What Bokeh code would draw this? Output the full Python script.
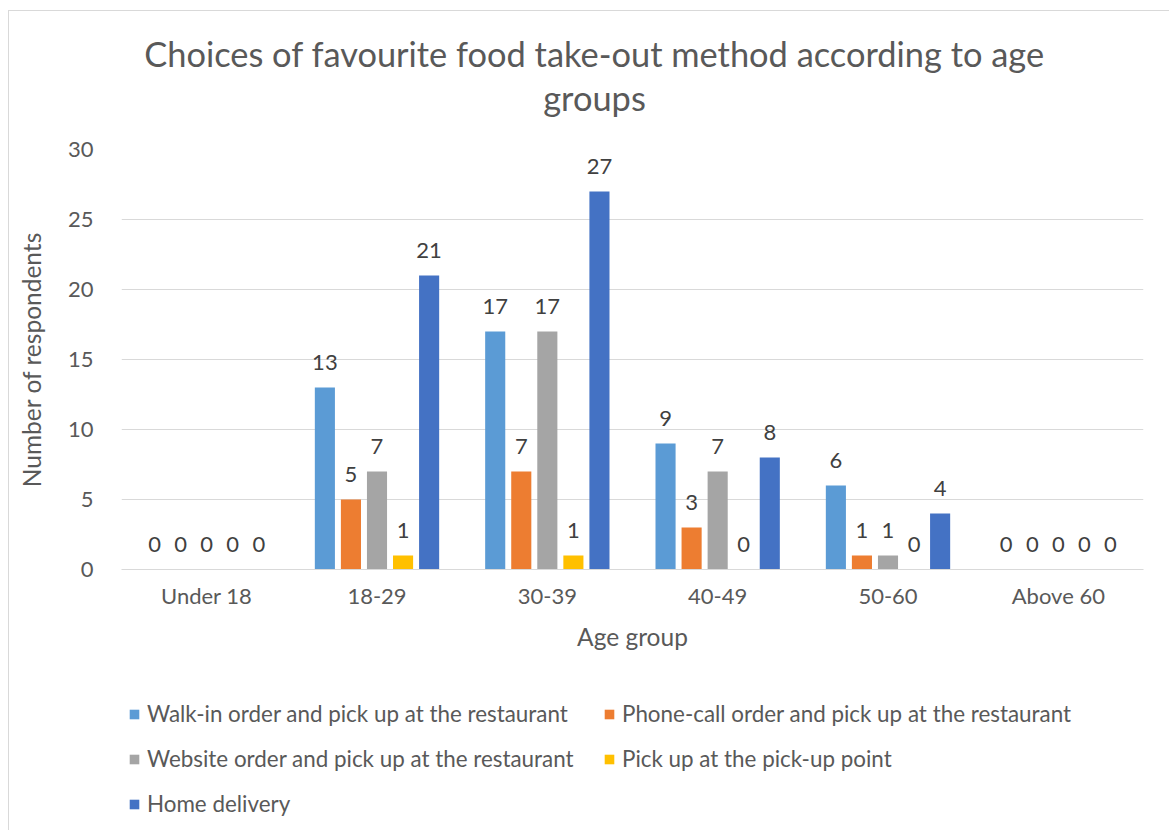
from bokeh.plotting import figure
from bokeh.layouts import column
from bokeh.models import (Legend, LegendItem, FactorRange, Range1d, Label,
                          FixedTicker, ColumnDataSource)
from bokeh.transform import dodge
from bokeh.core.properties import value
from bokeh.embed import file_html
from bokeh.resources import INLINE

# ---- data ----
categories = ["Under 18", "18-29", "30-39", "40-49", "50-60", "Above 60"]
walk_in = [0, 13, 17, 9, 6, 0]
phone_call = [0, 5, 7, 3, 1, 0]
website = [0, 7, 17, 7, 1, 0]
pickup_point = [0, 1, 1, 0, 0, 0]
home_delivery = [0, 21, 27, 8, 4, 0]
series_names = [
    "Walk-in order and pick up at the restaurant",
    "Phone-call order and pick up at the restaurant",
    "Website order and pick up at the restaurant",
    "Pick up at the pick-up point",
    "Home delivery",
]
y_ticks = [0, 5, 10, 15, 20, 25, 30]
title_lines = ["Choices of favourite food take-out method according to age", "groups"]
x_title = "Age group"
y_title = "Number of respondents"

colors = ["#5B9BD5", "#ED7D31", "#A5A5A5", "#FFC000", "#4472C4"]
FONT = "Lato"
TXT = "#595959"
BORDER = "1px solid #d9d9d9"
W = 1161
BL, BR = 112, 27          # left / right borders around the plot area
FW = W - BL - BR          # plot-area width in px

series = [walk_in, phone_call, website, pickup_point, home_delivery]
keys = ["s0", "s1", "s2", "s3", "s4"]
data = {"cat": categories}
for k, s in zip(keys, series):
    data[k] = s
    data[k + "_lbl"] = [str(v) for v in s]
source = ColumnDataSource(data)

# ---------- title panel ----------
pt = figure(width=W, height=120, x_range=Range1d(0, FW), y_range=Range1d(0, 120),
            x_axis_location=None, y_axis_location=None,
            min_border_left=BL, min_border_right=BR, min_border_top=0,
            min_border_bottom=0, output_backend="svg", toolbar_location=None)
pt.title.visible = False
pt.outline_line_color = None
pt.grid.grid_line_color = None
pt.margin = (10, 0, 0, 8)
pt.styles = {"border-left": BORDER, "border-top": BORDER}
for txt, yy in zip(title_lines, [78, 34]):
    pt.add_layout(Label(x=473, y=yy, text=txt, text_align="center",
                        text_baseline="middle", text_font=FONT,
                        text_font_size="34.4px", text_color=TXT))

# ---------- main chart ----------
p = figure(x_range=FactorRange(*categories), y_range=Range1d(0, 30),
           width=W, height=560, output_backend="svg", toolbar_location=None,
           min_border_left=BL, min_border_right=BR, min_border_top=19,
           min_border_bottom=121)
p.title.visible = False
p.outline_line_color = None
p.margin = (0, 0, 0, 8)
p.styles = {"border-left": BORDER}

step = 0.153
bw = 0.118
offsets = [-2 * step, -step, 0, step, 2 * step]
for k, off, c in zip(keys, offsets, colors):
    p.vbar(x=dodge("cat", off, range=p.x_range), top=k, width=bw,
           source=source, fill_color=c, line_color=None)
    p.text(x=dodge("cat", off, range=p.x_range), y=k, text=k + "_lbl",
           source=source, text_align="center", text_baseline="middle",
           y_offset=-25, text_font=value(FONT), text_font_size="22px",
           text_color="#404040")

p.yaxis.ticker = FixedTicker(ticks=y_ticks)
p.yaxis.axis_line_color = None
p.yaxis.major_tick_line_color = None
p.yaxis.minor_tick_line_color = None
p.yaxis.major_label_standoff = 22
p.yaxis.major_label_text_font = FONT
p.yaxis.major_label_text_font_size = "22px"
p.yaxis.major_label_text_color = TXT
p.yaxis.axis_label = y_title
p.yaxis.axis_label_standoff = 19
p.yaxis.axis_label_text_font = FONT
p.yaxis.axis_label_text_font_size = "24.5px"
p.yaxis.axis_label_text_font_style = "normal"
p.yaxis.axis_label_text_color = TXT

p.xaxis.axis_line_color = "#d9d9d9"
p.xaxis.major_tick_line_color = None
p.xaxis.minor_tick_line_color = None
p.xaxis.major_label_standoff = 6
p.xaxis.major_label_text_font = FONT
p.xaxis.major_label_text_font_size = "22px"
p.xaxis.major_label_text_color = TXT
p.xaxis.axis_label = x_title
p.xaxis.axis_label_standoff = 10
p.xaxis.axis_label_text_font = FONT
p.xaxis.axis_label_text_font_size = "24.5px"
p.xaxis.axis_label_text_font_style = "normal"
p.xaxis.axis_label_text_color = TXT

p.xgrid.grid_line_color = None
p.ygrid.grid_line_color = "#d9d9d9"
p.ygrid.grid_line_width = 1

# ---------- legend panel ----------
pl = figure(width=W, height=140, x_range=FactorRange(*categories),
            y_range=Range1d(0, 1), x_axis_location=None, y_axis_location=None,
            min_border_left=BL, min_border_right=BR, min_border_top=0,
            min_border_bottom=0, output_backend="svg", toolbar_location=None)
pl.title.visible = False
pl.outline_line_color = None
pl.grid.grid_line_color = None
pl.margin = (0, 0, 0, 8)
pl.styles = {"border-left": BORDER}
leg_r = []
for c in colors:
    # swatch renderers for the legend; their single bar has zero height
    leg_r.append(pl.vbar(x=[categories[0]], top=[0], bottom=[0], width=bw,
                         fill_color=c, line_color=None))
items = [LegendItem(label=n, renderers=[r]) for n, r in zip(series_names, leg_r)]
order = [0, 2, 4, 1, 3]
leg = Legend(items=[items[i] for i in order], orientation="vertical", ncols=2,
             location=(7, 13), glyph_width=12, glyph_height=12,
             label_height=26, label_width=438, spacing=18, padding=0, margin=0,
             border_line_color=None, background_fill_alpha=0, label_standoff=7,
             label_text_font=FONT, label_text_font_size="22.4px",
             label_text_color=TXT)
pl.add_layout(leg)

layout = column(pt, p, pl, spacing=0)
open("out.html", "w").write(file_html(layout, INLINE))
